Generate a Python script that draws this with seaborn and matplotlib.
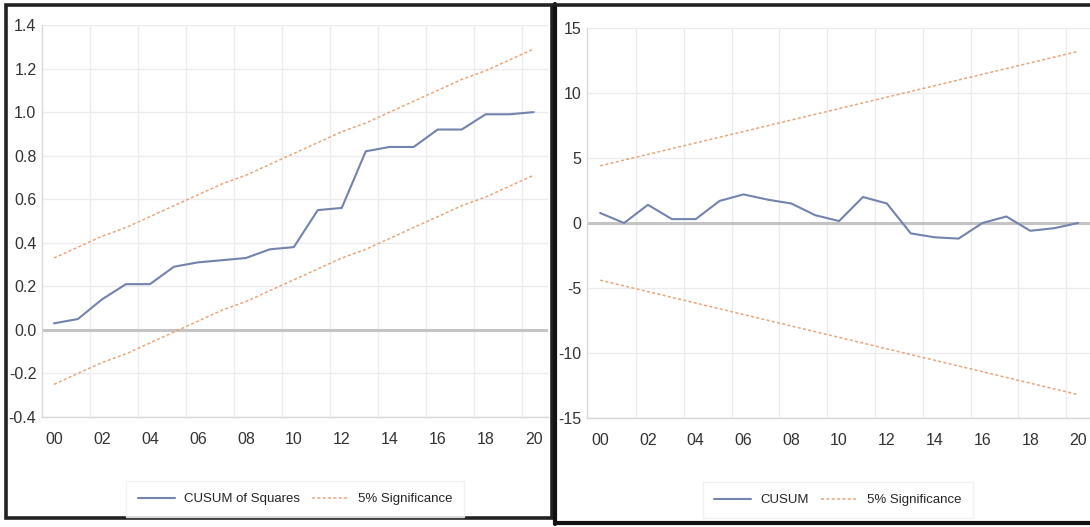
import matplotlib
matplotlib.use("Agg")
import matplotlib.pyplot as plt
import seaborn as sns
import pandas as pd
from matplotlib.patches import Rectangle
from matplotlib.lines import Line2D

years = list(range(0, 21))
year_labels = ["00", "02", "04", "06", "08", "10", "12", "14", "16", "18", "20"]

cusumsq = [0.03, 0.05, 0.14, 0.21, 0.21, 0.29, 0.31, 0.32, 0.33, 0.37, 0.38,
           0.55, 0.56, 0.82, 0.84, 0.84, 0.92, 0.92, 0.99, 0.99, 1.00]
sq_upper = [0.33, 0.38, 0.43, 0.47, 0.52, 0.57, 0.62, 0.67, 0.71, 0.76, 0.81,
            0.86, 0.91, 0.95, 1.00, 1.05, 1.10, 1.15, 1.19, 1.24, 1.29]
sq_lower = [-0.25, -0.20, -0.15, -0.11, -0.06, -0.01, 0.04, 0.09, 0.13, 0.18, 0.23,
            0.28, 0.33, 0.37, 0.42, 0.47, 0.52, 0.57, 0.61, 0.66, 0.71]

cusum = [0.77, 0.0, 1.4, 0.3, 0.3, 1.7, 2.2, 1.8, 1.5, 0.6, 0.15,
         2.0, 1.5, -0.8, -1.1, -1.2, 0.0, 0.5, -0.6, -0.4, 0.0]
cu_upper = [4.40, 4.84, 5.28, 5.72, 6.16, 6.60, 7.04, 7.48, 7.92, 8.36, 8.80,
            9.24, 9.68, 10.12, 10.56, 11.00, 11.44, 11.88, 12.32, 12.76, 13.20]
cu_lower = [-4.40, -4.84, -5.28, -5.72, -6.16, -6.60, -7.04, -7.48, -7.92, -8.36, -8.80,
            -9.24, -9.68, -10.12, -10.56, -11.00, -11.44, -11.88, -12.32, -12.76, -13.20]

sns.set_theme(style="white")
plt.rcParams['font.family'] = ['Liberation Sans Narrow', 'Liberation Sans', 'DejaVu Sans']

BLUE = '#7383ad'
ORANGE = '#eaa67c'
GRID = '#ececf0'
ZERO = '#c4c4c4'
TXT = '#333333'

W, H = 1090, 527
fig = plt.figure(figsize=(W / 100, H / 100), dpi=100)


def fx(px):
    return px / W


def fy(py):
    return (H - py) / H


def style_axes(ax, xlim, ylim, yticks, ylabels):
    ax.set_xlim(*xlim)
    ax.set_ylim(*ylim)
    ax.set_xticks(years[::2])
    ax.set_xticklabels(year_labels)
    ax.set_yticks(yticks)
    ax.set_yticklabels(ylabels)
    ax.grid(False)
    for t in yticks:
        ax.axhline(t, color=GRID, lw=1.0, zorder=0)
    for t in [i + 0.5 for i in range(1, 20, 2)]:
        ax.axvline(t, color=GRID, lw=1.0, zorder=0)
    ax.axhline(0, color=ZERO, lw=2.2, zorder=1)
    for s in ['top', 'right']:
        ax.spines[s].set_visible(False)
    for s in ['left', 'bottom']:
        ax.spines[s].set_color('#d8d8d8')
        ax.spines[s].set_linewidth(1.0)
    ax.tick_params(axis='both', which='both', length=0, labelsize=11.5, colors=TXT)
    ax.tick_params(axis='x', pad=11)
    ax.tick_params(axis='y', pad=4)
    ax.set_xlabel('')
    ax.set_ylabel('')


# Left panel
ax1 = fig.add_axes([fx(42), fy(417), fx(548) - fx(42), fy(25) - fy(417)])
df1 = pd.DataFrame({'year': years, 'cusumsq': cusumsq, 'up': sq_upper, 'lo': sq_lower})
sns.lineplot(data=df1, x='year', y='cusumsq', ax=ax1, color=BLUE, lw=1.5, zorder=3)
sns.lineplot(data=df1, x='year', y='up', ax=ax1, color=ORANGE, lw=1.1, ls=(0, (2, 1.5)), zorder=2)
sns.lineplot(data=df1, x='year', y='lo', ax=ax1, color=ORANGE, lw=1.1, ls=(0, (2, 1.5)), zorder=2)
yt1 = [-0.4, -0.2, 0.0, 0.2, 0.4, 0.6, 0.8, 1.0, 1.2, 1.4]
style_axes(ax1, (-0.5, 20.6), (-0.4, 1.4), yt1, [f"{v:.1f}" for v in yt1])

# Right panel
ax2 = fig.add_axes([fx(587), fy(418), fx(1090) - fx(587), fy(28) - fy(418)])
df2 = pd.DataFrame({'year': years, 'cusum': cusum, 'up': cu_upper, 'lo': cu_lower})
sns.lineplot(data=df2, x='year', y='cusum', ax=ax2, color=BLUE, lw=1.5, zorder=3)
sns.lineplot(data=df2, x='year', y='up', ax=ax2, color=ORANGE, lw=1.1, ls=(0, (2, 1.5)), zorder=2)
sns.lineplot(data=df2, x='year', y='lo', ax=ax2, color=ORANGE, lw=1.1, ls=(0, (2, 1.5)), zorder=2)
yt2 = [-15, -10, -5, 0, 5, 10, 15]
style_axes(ax2, (-0.55, 20.5), (-15, 15), yt2, [str(v) for v in yt2])

# Legends
h_blue = Line2D([], [], color=BLUE, lw=1.5)
h_or = Line2D([], [], color=ORANGE, lw=1.1, ls=(0, (2, 1.5)))
leg_kw = dict(ncol=2, frameon=True, fontsize=9.5, handlelength=2.8, columnspacing=0.9,
              handletextpad=0.7, borderpad=0.9, fancybox=False, edgecolor='#eeeeee',
              loc='center')
fig.legend([h_blue, h_or], ['CUSUM of Squares', '5% Significance'],
           bbox_to_anchor=(fx(295), fy(499)), **leg_kw)
fig.legend([h_blue, h_or], ['CUSUM', '5% Significance'],
           bbox_to_anchor=(fx(838), fy(500)), **leg_kw)

# Panel borders
fig.add_artist(Rectangle((fx(6), fy(518)), fx(552) - fx(6), fy(5) - fy(518),
                         transform=fig.transFigure, fill=False, ec='#222222', lw=2.6))
fig.add_artist(Line2D([fx(555), fx(555)], [fy(4), fy(524)], transform=fig.transFigure,
                      color='#111111', lw=3.0))
fig.add_artist(Line2D([fx(555), fx(1090)], [fy(5), fy(5)], transform=fig.transFigure,
                      color='#222222', lw=2.6))
fig.add_artist(Line2D([fx(555), fx(1090)], [fy(523), fy(523)], transform=fig.transFigure,
                      color='#111111', lw=3.0))

fig.savefig('out.png', dpi=100)
